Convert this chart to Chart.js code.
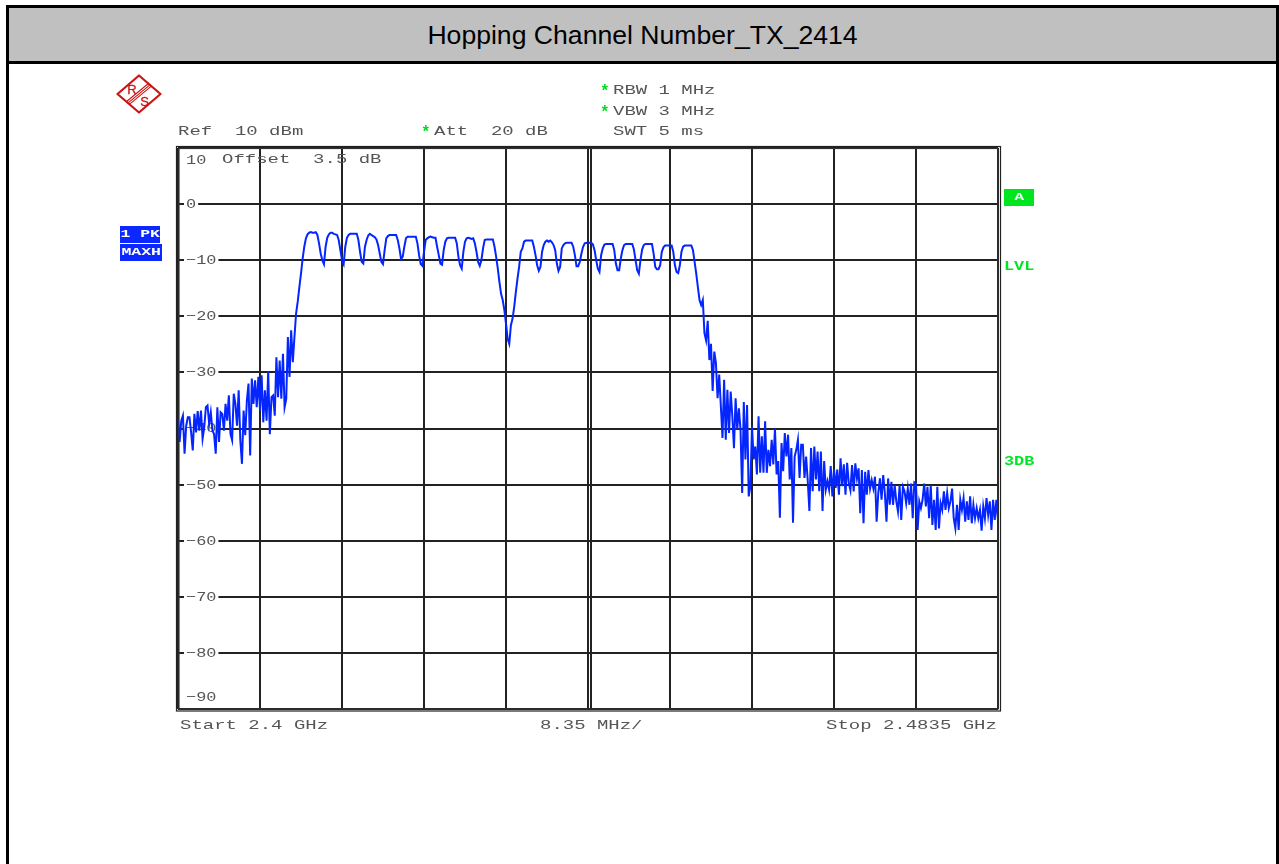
<!DOCTYPE html>
<html>
<head>
<meta charset="utf-8">
<title>Hopping Channel Number_TX_2414</title>
<script src="https://cdn.jsdelivr.net/npm/chart.js@4"></script>
<style>
html,body{margin:0;padding:0;background:#fff;overflow:hidden}
body{position:relative;width:1279px;height:864px}
#grafico{position:absolute;left:0;top:0}
#marco{position:absolute;left:6px;top:5px;right:0;bottom:0;border:solid #000;border-width:3px 3px 0 3px}
#titulo{position:absolute;left:9px;top:8px;width:1267px;height:53px;line-height:54px;background:#c0c0c0;border-bottom:3.5px solid #000;
  text-align:center;font:26.6px/54px "Liberation Sans",sans-serif;color:#000}
.t{position:absolute;font:13px/14px "Liberation Mono",monospace;color:#555;white-space:pre;transform:scaleX(1.46);transform-origin:0 50%}
.v{position:absolute;font:bold 16px/14px "Liberation Mono",monospace;color:#00dc20}
.g{position:absolute;font:bold 12px/14px "Liberation Mono",monospace;color:#00e626;white-space:pre;transform:scaleX(1.4);transform-origin:0 50%}
.caja{position:absolute;color:#fff;text-align:center;font:bold 11px/17px "Liberation Mono",monospace;white-space:pre}
.caja span{display:inline-block;transform:scaleX(1.5)}
</style>
</head>
<body>
<canvas id="grafico" width="1279" height="864"></canvas>
<div id="marco"></div>
<div id="titulo">Hopping Channel Number_TX_2414</div>

<svg style="position:absolute;left:115px;top:72px" width="48" height="44" viewBox="115 72 48 44">
  <polygon points="139,75.5 160.5,94 139,112.5 117.5,94" fill="none" stroke="#cc1414" stroke-width="2.2" stroke-linejoin="round"/>
  <g stroke="#cc1414" stroke-width="1.1">
    <line x1="126" y1="102" x2="149" y2="83"/>
    <line x1="127.5" y1="103.3" x2="150.5" y2="84.3"/>
    <line x1="129" y1="104.6" x2="152" y2="85.6"/>
  </g>
  <text x="132" y="93.5" font-family="Liberation Sans" font-size="13" stroke="#cc1414" stroke-width="0.3" fill="#cc1414" text-anchor="middle">R</text>
  <text x="144.5" y="105.5" font-family="Liberation Sans" font-size="13" stroke="#cc1414" stroke-width="0.3" fill="#cc1414" text-anchor="middle">S</text>
</svg>

<span class="v" style="left:600px;top:85px">*</span>
<span class="t" style="left:613px;top:84px">RBW 1 MHz</span>
<span class="v" style="left:600px;top:106px">*</span>
<span class="t" style="left:613px;top:105px">VBW 3 MHz</span>
<span class="t" style="left:613px;top:125px">SWT 5 ms</span>
<span class="v" style="left:421px;top:126px">*</span>
<span class="t" style="left:434px;top:125px">Att  20 dB</span>
<span class="t" style="left:178px;top:125px">Ref  10 dBm</span>
<span class="t" style="left:222px;top:153px">Offset  3.5 dB</span>
<span class="t" style="left:180px;top:719px">Start 2.4 GHz</span>
<span class="t" style="left:540px;top:719px">8.35 MHz/</span>
<span class="t" style="left:826px;top:719px">Stop 2.4835 GHz</span>

<div class="caja" style="left:120px;top:226px;width:40px;height:17px;background:#0a28ff"><span>1 PK</span></div>
<div class="caja" style="left:120px;top:244px;width:42px;height:17px;background:#0a28ff"><span>MAXH</span></div>
<div class="caja" style="left:1004px;top:189px;width:30px;height:17px;background:#00e61e"><span>A</span></div>
<span class="g" style="left:1004px;top:260px">LVL</span>
<span class="g" style="left:1004px;top:455px">3DB</span>

<script>
// eje Y
const yTicks = [10, 0, -10, -20, -30, -40, -50, -60, -70, -80, -90]
const yLabels = ["10", "0", "\u221210", "\u221220", "\u221230", "\u221240", "\u221250", "\u221260", "\u221270", "\u221280", "\u221290"]

// lineas verticales, la ultima extra es la segunda linea del centro
const xGrid = [2.4, 2.40835, 2.4167, 2.42505, 2.4334, 2.44175, 2.4501, 2.45845, 2.4668, 2.47515, 2.4835, 2.44205]
const startGHz = 2.4
const stopGHz = 2.4835

// traza MAXH en dBm, 501 puntos de barrido
const skirtLow = [
  -38.3,-42.4,-38.6,-37.7,-44.5,-39.5,-38,-38,-40.7,-43.9,
  -37.4,-40.7,-36.9,-40.4,-36.8,-41.8,-39.8,-36.2,-35.9,-39.2,
  -37.1,-40.4,-41,-44.5,-36.2,-42.4,-37.1,-37.4,-40.4,-35.6,
  -38.6,-34.1,-41,-42.1,-33.8,-35.6,-39.5,-33.2,-42.1,-46.3,
  -36.8,-41.2,-35,-32,-44.8,-31.1,-35.6,-31.4,-36.2,-30.8,
  -36.8,-30.5,-38.9,-33.2,-38.6,-29.8,-41,-34.4,-34.1,-37.7,
  -27.3,-34.4,-27.9,-34.7,-26.7,-36.2,-34.7,-23.7,-30.8,-22.5,
  -28.2,-23.7,-19.5,-17.4,-14.8,-12.4,-9.7,-7.6,-6.1,-5.4
]
const channelsLow = [
  -5.1,-5,-5.1,-5.1,-5,-5.5,-7,-8.8,-10,-10.7,
  -7.6,-6,-5.4,-5.1,-5.1,-5.3,-5.4,-5.5,-6.4,-8.2,
  -10,-10.7,-7.6,-6,-5.5,-5.3,-5.3,-5.3,-5.3,-5.3,
  -6.4,-8.5,-10.3,-10.6,-7.6,-6.4,-5.6,-5.3,-5.5,-5.7,
  -5.9,-6.3,-7.3,-8.8,-10.3,-10.7,-8.2,-6.1,-5.7,-5.5,
  -5.5,-5.5,-5.5,-5.5,-6.4,-7.9,-9.8,-9.4,-7.6,-6.1,
  -5.8,-5.8,-5.8,-5.8,-5.8,-5.8,-7,-9.1,-10.7,-11,
  -8.5,-6.4,-6.1,-5.9,-5.8,-5.9,-6,-6,-7.6,-9.1,
  -10.6,-10.8,-8.2,-6.7,-6.1,-6,-6,-6,-6,-6,
  -7,-9.4,-10.9,-11.5,-8.5,-6.7,-6.1,-6,-6.1,-6.2,
  -6.1,-7,-8.5,-10.3,-11,-10,-7.9,-6.4,-6.3,-6.3,
  -6.3,-6.3,-6.3,-7.6,-9.4,-11.5,-13.9,-16,-17.1,-18.9
]
const channelsHigh = [
  -21.3,-24,-24.9,-21.6,-20.4,-18.3,-15.7,-13.3,-11.2,-8.5,
  -7.9,-6.7,-6.5,-6.5,-6.5,-6.5,-6.5,-7.6,-9.1,-10.9,
  -11.9,-11.2,-8.5,-7.3,-6.7,-6.5,-6.7,-6.5,-6.8,-7.3,
  -8.2,-10.6,-11.9,-11.2,-7.9,-7.3,-7,-6.9,-6.9,-6.9,
  -6.9,-7.6,-9.1,-11.1,-11.1,-10.3,-8.8,-7.6,-7,-6.9,
  -7,-6.9,-6.9,-7.2,-8.2,-10,-11.5,-12.1,-9.1,-7.9,
  -7.2,-7.1,-7.1,-7.1,-7.1,-7.1,-8.2,-10.6,-11.8,-11.8,
  -9.7,-8.2,-7.3,-7.1,-7.1,-7.1,-7.1,-7.1,-8.1,-10,
  -11.8,-12.4,-10,-8.1,-7.3,-7.1,-7.1,-7.1,-7.1,-7.1,
  -8.8,-11.2,-11.6,-11.6,-10.9,-8.5,-7.7,-7.4,-7.4,-7.4,
  -7.4,-7.4,-8.5,-10.9,-12.1,-12.3,-10.9,-8.5,-7.6,-7.4,
  -7.4,-7.4,-7.4,-7.4,-8.2,-10.3,-12.4,-14.8,-17.1,-18
]
const skirtHigh = [
  -17.1,-23,-24.3,-20.8,-27.8,-24.9,-33.3,-26.3,-28.3,-34.6,
  -30.4,-36,-41.7,-31.3,-42,-33.1,-40.8,-33.4,-37.8,-43.5,
  -34.6,-40.2,-36.4,-40.2,-51.5,-35.3,-45.5,-35.8,-52.1,-50.3,
  -39.6,-45.5,-43.2,-48.2,-37.8,-47.9,-41.4,-47.9,-38.7,-47.9,
  -43.8,-46.7,-42,-46.4,-40,-48.2,-45.8,-55.9,-42.6,-47.6,
  -40.8,-45,-41.1,-49.1,-43.5,-56.8,-45,-43.8,-42,-48.8,
  -42.9,-42.9,-48.8,-45,-49.4,-54.7,-43.5,-51.2,-43.2,-49.1,
  -44.1,-51.2,-44.1,-54.7,-45.8,-50.9,-49.4,-50.9,-46.7,-52.1,
  -47.3,-50.6,-47.3,-51.8,-45.3,-50.3,-46.4,-51.8,-46.1,-49.7
]
const noiseFloor = [
  -51,-46.5,-51.2,-46.2,-48.9,-47.1,-55.1,-47.4,-56.9,-47.7,
  -51.8,-47.4,-50.7,-49.2,-50.7,-48.6,-56.6,-51.5,-48.9,-52.7,
  -48.3,-51.5,-56.6,-48.9,-53.6,-49.5,-53.6,-50.1,-53,-54.8,
  -50.1,-56.3,-50.4,-51.2,-53.3,-50.7,-53.6,-49.8,-56,-49.6,
  -49.8,-58.1,-53,-54.2,-52.7,-49.8,-53.9,-50.4,-56,-50.1,
  -57.2,-52.7,-58.1,-50.4,-57.8,-53.3,-54.5,-51.2,-54.5,-51.5,
  -54.2,-53,-50.7,-56,-57.8,-53.6,-58.1,-52.7,-54.5,-52.4,
  -56.6,-53,-56.3,-52.1,-56.9,-53.6,-56,-54.2,-56,-54.5,
  -58.2,-53.9,-56,-52.4,-55.4,-53,-58.1,-52.7,-56.3,-52.7,
  -56.3
]

const niveles = [...skirtLow, ...channelsLow, ...channelsHigh, ...skirtHigh, ...noiseFloor]
const puntos = niveles.map((nivel, i) => ({
  x: startGHz + (stopGHz - startGHz) * i / (niveles.length - 1),
  y: nivel
}))

// etiquetas del eje dentro del grafico, debajo de la traza
const etiquetasY = {
  id: 'etiquetasY',
  beforeDatasetsDraw(chart) {
    const { ctx, chartArea, scales } = chart
    ctx.save()
    ctx.font = '13px "Liberation Mono"'
    ctx.textBaseline = 'middle'
    yTicks.forEach((valor, i) => {
      let y = scales.y.getPixelForValue(valor)
      if (i === 0) y += 12
      if (i === yTicks.length - 1) y -= 12
      const x = chartArea.left + 8
      const ancho = ctx.measureText(yLabels[i]).width * 1.3
      if (i > 0 && i < yTicks.length - 1) {
        ctx.fillStyle = '#fff'
        ctx.fillRect(x - 2, y - 3, ancho + 4, 6)
      }
      ctx.fillStyle = '#555'
      ctx.save()
      ctx.translate(x, y + 0.5)
      ctx.scale(1.3, 1)
      ctx.fillText(yLabels[i], 0, 0)
      ctx.restore()
    })
    ctx.restore()
  }
}

// doble marco del analizador
const marcoDoble = {
  id: 'marcoDoble',
  afterDraw(chart) {
    const { ctx, chartArea: a } = chart
    ctx.save()
    ctx.strokeStyle = '#222'
    ctx.lineWidth = 1.2
    ctx.strokeRect(a.left - 1.5, a.top - 1.5, a.width + 4, a.height + 3.5)
    ctx.strokeStyle = '#333'
    ctx.strokeRect(a.left + 1, a.top + 0.5, a.width - 1, a.height - 0.5)
    ctx.restore()
  }
}

const ctx = document.getElementById('grafico')

new Chart(ctx, {
  type: 'line',
  data: {
    datasets: [{
      label: 'Trace 1 MAXH',
      data: puntos,
      borderColor: '#0525ff',
      borderWidth: 2,
      pointRadius: 0,
      tension: 0,
      fill: false
    }]
  },
  options: {
    responsive: false,
    animation: false,
    layout: { padding: { left: 178, top: 148, right: 281, bottom: 155 } },
    plugins: { legend: { display: false }, title: { display: false }, tooltip: { enabled: false } },
    scales: {
      x: {
        type: 'linear',
        min: startGHz,
        max: stopGHz,
        afterBuildTicks: (eje) => { eje.ticks = xGrid.map(v => ({ value: v })) },
        border: { display: false },
        grid: { color: '#222', lineWidth: 2, drawTicks: false },
        ticks: { display: false }
      },
      y: {
        min: -90,
        max: 10,
        afterBuildTicks: (eje) => { eje.ticks = yTicks.map(v => ({ value: v })) },
        border: { display: false },
        grid: { color: '#222', lineWidth: 2, drawTicks: false },
        ticks: { display: false }
      }
    }
  },
  plugins: [etiquetasY, marcoDoble]
})
</script>
</body>
</html>
